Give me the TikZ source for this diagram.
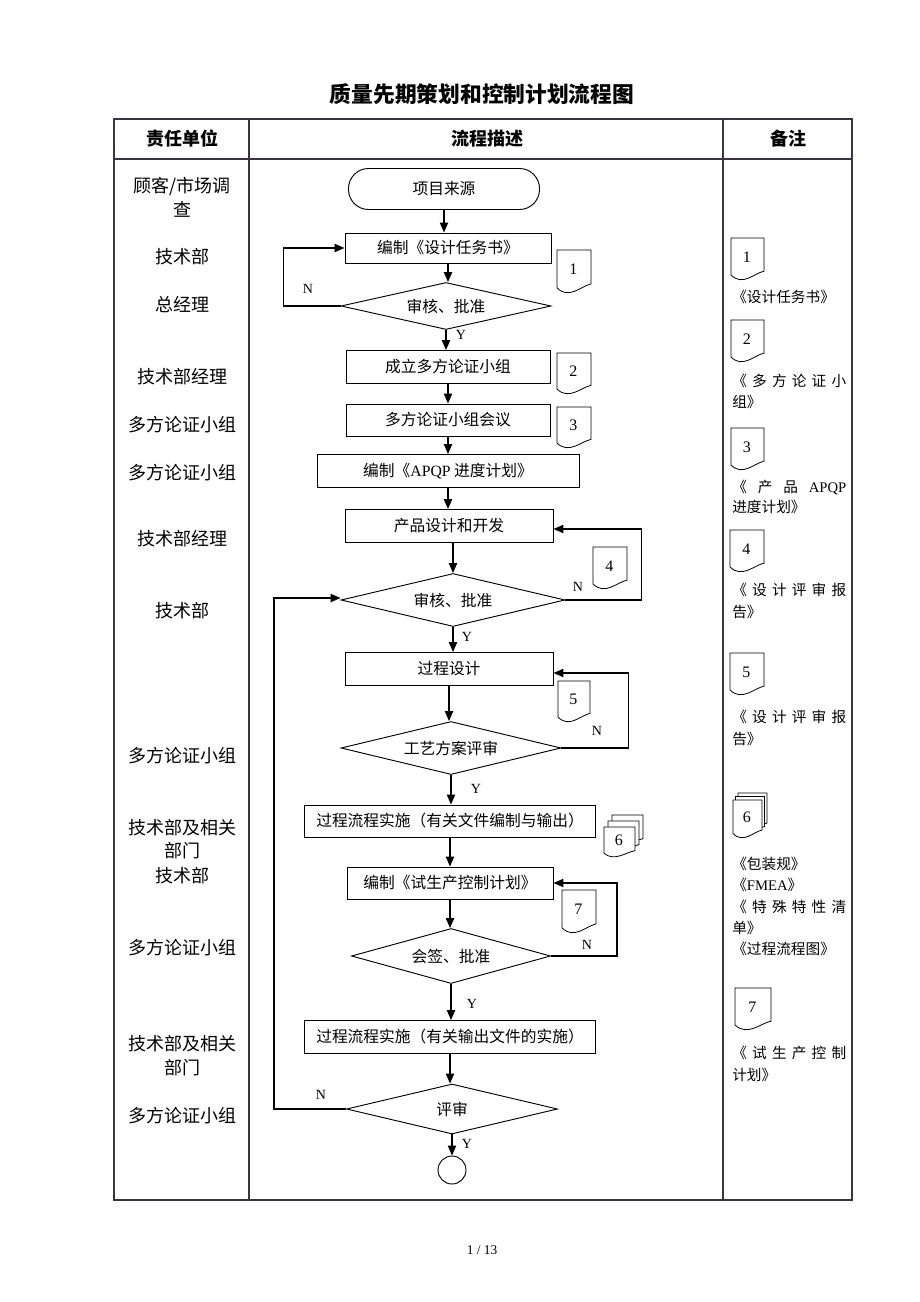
\documentclass[tikz,border=0pt]{standalone}
\usepackage{fontspec}
\setmainfont{Liberation Serif}
\newfontfamily\cjk{Noto Sans CJK SC}
\usetikzlibrary{shapes.geometric,arrows.meta}
\definecolor{tbl}{RGB}{60,50,70}
\tikzset{
  box/.style={draw, line width=0.7pt, inner sep=0pt, font=\cjk\fontsize{11.8}{14}\selectfont},
  dec/.style={draw, diamond, line width=0.7pt, inner sep=0pt, font=\cjk\fontsize{11.8}{14}\selectfont},
  arr/.style={-{Triangle[length=7.5pt,width=6.2pt]}, line width=1.1pt},
  lab/.style={font=\fontsize{10.5}{12}\selectfont, inner sep=0pt},
  lcol/.style={font=\cjk\fontsize{13.5}{16}\selectfont, inner sep=0pt},
  rcol/.style={font=\cjk\fontsize{11}{13}\selectfont, inner sep=0pt, anchor=west},
  hdr/.style={font=\cjk\bfseries\fontsize{13.5}{16}\selectfont, inner sep=0pt},
  docnum/.style={font=\fontsize{12}{14}\selectfont, inner sep=0pt},
  docp/.style={draw, line width=0.6pt, fill=white},
  tline/.style={draw=tbl, line width=0.8pt}
}
% document symbol: x, y (top-left), w, H (total height)
\newcommand\docpage[4]{%
  \draw[docp] (#1,#2+0.88*#4) -- (#1,#2) -- (#1+#3,#2) -- (#1+#3,#2+0.79*#4)
    .. controls (#1+0.7*#3,#2+0.84*#4) and (#1+0.35*#3,#2+1.16*#4) .. (#1,#2+0.88*#4) -- cycle;}
% name, x, y, w, H, label
\newcommand\docsym[6]{%
  \docpage{#2}{#3}{#4}{#5}
  \node[docnum] (#1) at (#2+0.48*#4,#3+0.45*#5) {#6};}
% name, x, y, w, H, dx, dy, label
\newcommand\docstk[8]{%
  \docpage{#2+2*#6}{#3-2*#7}{#4}{#5}
  \docpage{#2+#6}{#3-#7}{#4}{#5}
  \docpage{#2}{#3}{#4}{#5}
  \node[docnum] (#1) at (#2+0.48*#4,#3+0.45*#5) {#8};}
\newcommand\jl[1]{\makebox[85.5pt]{#1}}
\begin{document}
\begin{tikzpicture}[x=0.75pt,y=-0.75pt]
\useasboundingbox (0,0) rectangle (920,1302);
% title
\node[font=\cjk\bfseries\fontsize{16.3}{19}\selectfont, inner sep=0pt] (title) at (482,94) {质量先期策划和控制计划流程图};
% table
\draw[tline] (114,119) rectangle (852,1200);
\draw[tline] (114,159) -- (852,159);
\draw[tline] (249,119) -- (249,1200);
\draw[tline] (723,119) -- (723,1200);
\node[hdr] (h1) at (182,139) {责任单位};
\node[hdr] (h2) at (487,139) {流程描述};
\node[hdr] (h3) at (788,139) {备注};
% left column
\node[lcol] (l1a) at (182,186) {顾客/市场调};
\node[lcol] (l1b) at (182,209) {查};
\node[lcol] (l2) at (182,257) {技术部};
\node[lcol] (l3) at (182,305) {总经理};
\node[lcol] (l4) at (182,377) {技术部经理};
\node[lcol] (l5) at (182,425) {多方论证小组};
\node[lcol] (l6) at (182,473) {多方论证小组};
\node[lcol] (l7) at (182,539) {技术部经理};
\node[lcol] (l8) at (182,611) {技术部};
\node[lcol] (l9) at (182,756) {多方论证小组};
\node[lcol] (l10a) at (182,828) {技术部及相关};
\node[lcol] (l10b) at (182,851) {部门};
\node[lcol] (l11) at (182,876) {技术部};
\node[lcol] (l12) at (182,948) {多方论证小组};
\node[lcol] (l13a) at (182,1044) {技术部及相关};
\node[lcol] (l13b) at (182,1068) {部门};
\node[lcol] (l14) at (182,1116) {多方论证小组};
% flow nodes
\node[box, rounded corners=15pt, minimum width={191*0.75pt}, minimum height={41*0.75pt}] (start) at (444,189) {项目来源};
\node[box, minimum width={206*0.75pt}, minimum height={30*0.75pt}] (b1) at (448,248) {编制《设计任务书》};
\node[dec, minimum width={210*0.75pt}, minimum height={47*0.75pt}, aspect=4.47] (d1) at (446,306) {审核、批准};
\node[box, minimum width={204*0.75pt}, minimum height={33*0.75pt}] (b2) at (448,367) {成立多方论证小组};
\node[box, minimum width={204*0.75pt}, minimum height={32*0.75pt}] (b3) at (448,420) {多方论证小组会议};
\node[box, minimum width={262*0.75pt}, minimum height={33*0.75pt}] (b4) at (448,471) {编制《{\rmfamily APQP} 进度计划》};
\node[box, minimum width={208*0.75pt}, minimum height={33*0.75pt}] (b5) at (449,526) {产品设计和开发};
\node[dec, minimum width={224*0.75pt}, minimum height={53*0.75pt}, aspect=4.23] (d2) at (453,600) {审核、批准};
\node[box, minimum width={208*0.75pt}, minimum height={33*0.75pt}] (b6) at (449,669) {过程设计};
\node[dec, minimum width={220*0.75pt}, minimum height={53*0.75pt}, aspect=4.15] (d3) at (451,748) {工艺方案评审};
\node[box, minimum width={291*0.75pt}, minimum height={32*0.75pt}] (b7) at (450,821) {过程流程实施（有关文件编制与输出）};
\node[box, minimum width={206*0.75pt}, minimum height={32*0.75pt}] (b8) at (450,883) {编制《试生产控制计划》};
\node[dec, minimum width={199*0.75pt}, minimum height={55*0.75pt}, aspect=3.62] (d4) at (451,956) {会签、批准};
\node[box, minimum width={291*0.75pt}, minimum height={33*0.75pt}] (b9) at (450,1037) {过程流程实施（有关输出文件的实施）};
\node[dec, minimum width={211*0.75pt}, minimum height={50*0.75pt}, aspect=4.22] (d5) at (452,1109) {评审};
\node[draw, circle, line width=0.7pt, minimum size={28*0.75pt}, inner sep=0pt] (end) at (452,1170) {};
% connectors
\draw[arr] (start.south) -- (start.south |- b1.north);
\draw[arr] (b1.south) -- (b1.south |- d1.north);
\draw[arr] (d1.south) -- (d1.south |- b2.north);
\draw[arr] (b2.south) -- (b2.south |- b3.north);
\draw[arr] (b3.south) -- (b3.south |- b4.north);
\draw[arr] (b4.south) -- (b4.south |- b5.north);
\draw[arr] (d2.north |- b5.south) -- (d2.north);
\draw[arr] (d2.south) -- (d2.south |- b6.north);
\draw[arr] (b6.south) -- (b6.south |- d3.north);
\draw[arr] (d3.south) -- (d3.south |- b7.north);
\draw[arr] (b7.south) -- (b7.south |- b8.north);
\draw[arr] (b8.south) -- (b8.south |- d4.north);
\draw[arr] (d4.south) -- (d4.south |- b9.north);
\draw[arr] (b9.south) -- (b9.south |- d5.north);
\draw[arr] (d5.south) -- (d5.south |- end.north);
% loops
\draw[arr] (d1.west) -- ++(-57,0) |- (b1.west);
\draw[arr] (d2.east) -- ++(76,0) |- ([yshift={-3*0.75pt}]b5.east);
\draw[arr] (d3.east) -- ++(67,0) |- ([yshift={-4*0.75pt}]b6.east);
\draw[arr] (d4.east) -- ++(66,0) |- (b8.east);
\draw[arr] (d5.west) -- ++(-72,0) |- ([yshift={2*0.75pt}]d2.west);
% Y / N labels
\node[lab] (n1) at (308,289) {N};
\node[lab] (y1) at (461,335) {Y};
\node[lab] (n2) at (578,587) {N};
\node[lab] (y2) at (467,637) {Y};
\node[lab] (n3) at (597,731) {N};
\node[lab] (y3) at (476,789) {Y};
\node[lab] (n4) at (587,945) {N};
\node[lab] (y4) at (472,1004) {Y};
\node[lab] (n5) at (321,1095) {N};
\node[lab] (y5) at (467,1144) {Y};
% flow document symbols
\docsym{f1}{557}{250}{34}{43}{1}
\docsym{f2}{557}{353}{34}{41}{2}
\docsym{f3}{557}{407}{34}{41}{3}
\docsym{f4}{593}{547}{34}{42}{4}
\docsym{f5}{558}{681}{32}{41}{5}
\docstk{f6}{604}{827}{31}{30}{4}{6}{6}
\docsym{f7}{562}{890}{34}{43}{7}
% right column symbols
\docsym{r1}{731}{238}{33}{42}{1}
\docsym{r2}{731}{320}{33}{42}{2}
\docsym{r3}{731}{428}{33}{42}{3}
\docsym{r4}{730}{530}{34}{42}{4}
\docsym{r5}{730}{653}{34}{42}{5}
\docstk{r6}{733}{800}{29}{38}{2.5}{3.5}{6}
\docsym{r7}{735}{988}{36}{42}{7}
% right column texts
\node[rcol] (t1) at (732,297) {《设计任务书》};
\node[rcol] (t2a) at (732,381) {\jl{《\hfill 多\hfill 方\hfill 论\hfill 证\hfill 小}};
\node[rcol] (t2b) at (732,402) {组》};
\node[rcol] (t3a) at (732,487) {\jl{《\hfill 产\hfill 品\hfill {\rmfamily APQP}}};
\node[rcol] (t3b) at (732,507) {进度计划》};
\node[rcol] (t4a) at (732,590) {\jl{《\hfill 设\hfill 计\hfill 评\hfill 审\hfill 报}};
\node[rcol] (t4b) at (732,612) {告》};
\node[rcol] (t5a) at (732,717) {\jl{《\hfill 设\hfill 计\hfill 评\hfill 审\hfill 报}};
\node[rcol] (t5b) at (732,739) {告》};
\node[rcol] (t6a) at (732,864) {《包装规》};
\node[rcol] (t6b) at (732,885) {《{\rmfamily FMEA}》};
\node[rcol] (t6c) at (732,907) {\jl{《\hfill 特\hfill 殊\hfill 特\hfill 性\hfill 清}};
\node[rcol] (t6d) at (732,928) {单》};
\node[rcol] (t6e) at (732,949) {《过程流程图》};
\node[rcol] (t7a) at (732,1053) {\jl{《\hfill 试\hfill 生\hfill 产\hfill 控\hfill 制}};
\node[rcol] (t7b) at (732,1075) {计划》};
% footer
\node[font=\fontsize{10}{12}\selectfont, inner sep=0pt] (foot) at (482,1250) {1 / 13};
\end{tikzpicture}
\end{document}
